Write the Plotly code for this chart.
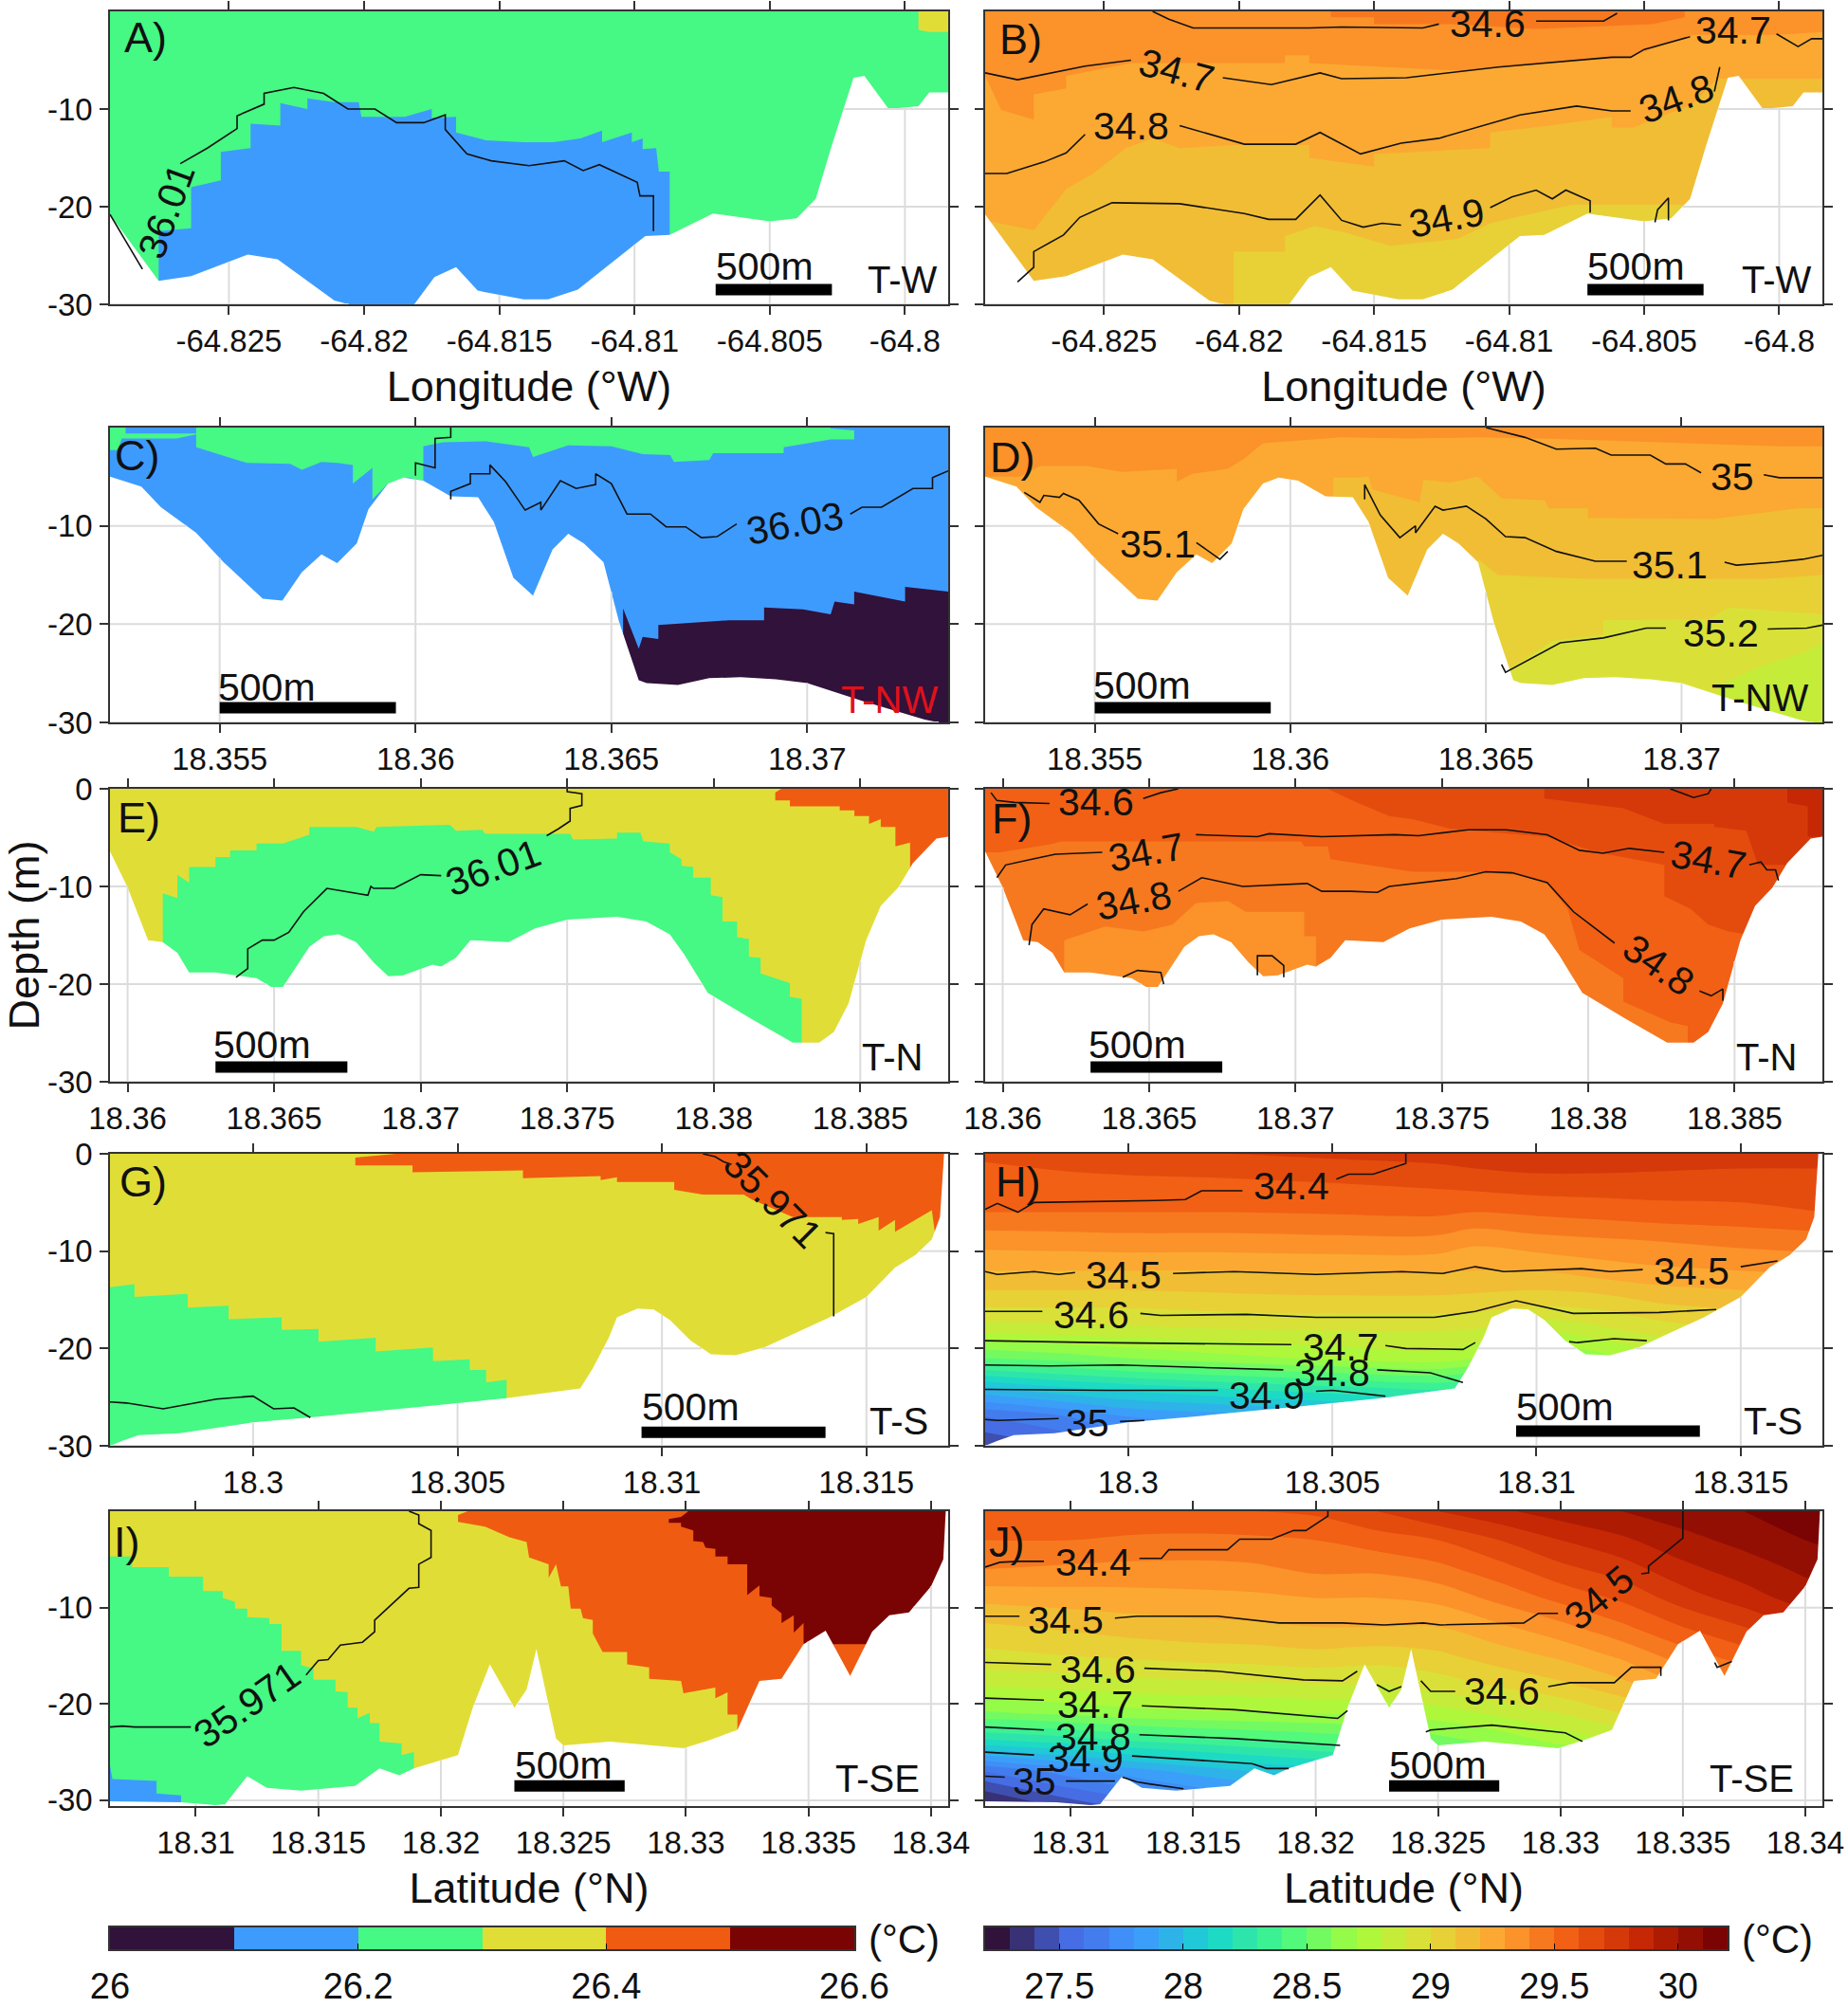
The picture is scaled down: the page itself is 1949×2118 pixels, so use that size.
import numpy as np
import plotly.graph_objects as go
from plotly.colors import sample_colorscale

W, H = 1949, 2118
FONT = "Liberation Sans"

# ------------------------------------------------------------------ colour scales
turbo_anchors = ["#30123b", "#466be3", "#3e9bfe", "#18d6cb", "#46f884", "#a4fc3c",
                 "#e1dd37", "#fea331", "#f05b12", "#c42503", "#7a0403"]
cb_left_edges = [26.0, 26.1, 26.2, 26.3, 26.4, 26.5, 26.6]
cb_left_ticks = [26, 26.2, 26.4, 26.6]
cb_left_text = ["26", "26.2", "26.4", "26.6"]
cb_right_start, cb_right_end, cb_right_step = 27.2, 30.2, 0.1
cb_right_ticks = [27.5, 28, 28.5, 29, 29.5, 30]
cb_right_text = ["27.5", "28", "28.5", "29", "29.5", "30"]

# ------------------------------------------------------------------ seabed profiles
bathy_lon = [-64.8294, -64.8276, -64.8264, -64.8243, -64.8232, -64.8211, -64.8203, -64.8182, -64.8174, -64.8166,
             -64.8158, -64.8141, -64.8132, -64.8121, -64.8096, -64.8087, -64.8071, -64.8050, -64.8040, -64.8033,
             -64.8027, -64.8019, -64.8015, -64.8006, -64.7995, -64.7991, -64.7984]
bathy_lon_z = [-20.8, -27.6, -27.1, -24.9, -25.4, -29.6, -30.2, -30.2, -27.2, -26.2, -28.6, -29.5, -29.5, -28.5, -23,
               -22.9, -20.7, -21.5, -21.2, -19.2, -13.7, -6.8, -6.6, -10, -9.7, -8.3, -8.3]
bathy_nw = [18.3522, 18.3530, 18.3535, 18.3544, 18.3551, 18.3561, 18.3566, 18.3571, 18.3576, 18.3580, 18.3585, 18.3588,
            18.3593, 18.3597, 18.3602, 18.3609, 18.3616, 18.3620, 18.3625, 18.3630, 18.3635, 18.3639, 18.3643, 18.3648,
            18.3652, 18.3657, 18.3659, 18.3667, 18.3675, 18.3683, 18.3692, 18.3700, 18.3714, 18.3730, 18.3736]
bathy_nw_z = [-5, -6, -8.1, -10.7, -13.7, -17.4, -17.6, -14.7, -12.9, -13.8, -11.8, -8.3, -5.7, -5.1, -5.4, -7, -7.1,
              -9.6, -15.3, -17.1, -12.4, -10.8, -11.8, -13.7, -19.8, -25.7, -26, -26.2, -25.5, -25.4, -25.6, -26,
              -27.8, -29.7, -30.2]
bathy_n = [18.3594, 18.3600, 18.3607, 18.3612, 18.3617, 18.3621, 18.3630, 18.3644, 18.3649, 18.3653, 18.3662, 18.3667,
           18.3672, 18.3678, 18.3684, 18.3689, 18.3694, 18.3704, 18.3707, 18.3712, 18.3717, 18.3730, 18.3739, 18.3750,
           18.3767, 18.3777, 18.3785, 18.3790, 18.3798, 18.3813, 18.3827, 18.3836, 18.3841, 18.3846, 18.3852, 18.3857,
           18.3863, 18.3868, 18.3876, 18.3880]
bathy_n_z = [-6.4, -10.1, -15.5, -15.7, -16.8, -18.8, -18.8, -19.4, -20.3, -20.3, -16.2, -15.1, -14.9, -15.7, -17.8,
             -19.2, -19.1, -18, -18.2, -17.3, -15.5, -15.7, -14.3, -13.4, -13.1, -13.6, -14.9, -17, -20.9, -23.6, -26,
             -26, -24.9, -22, -15.5, -12, -10.1, -7.6, -5.1, -4.9]
bathy_s = [18.2965, 18.2968, 18.2972, 18.2982, 18.3, 18.3016, 18.3043, 18.3062, 18.308, 18.3083, 18.3087, 18.3089,
           18.3094, 18.3098, 18.3102, 18.3107, 18.3112, 18.3118, 18.3125, 18.3141, 18.315, 18.3157, 18.3162, 18.3166,
           18.3168, 18.3169, 18.317]
bathy_s_z = [-30, -29.5, -28.9, -28.7, -27.6, -27, -25.9, -25.1, -24.1, -22.1, -18.9, -16.8, -15.9, -16, -17.1, -19.2,
             -20.6, -20.7, -19.9, -16.8, -14.7, -11.7, -10.4, -8.8, -6.5, 0, 0]
bathy_se = [18.3065, 18.3094, 18.3108, 18.3112, 18.3121, 18.3129, 18.3143, 18.3165, 18.3175, 18.3183, 18.3189, 18.3207,
            18.3213, 18.322, 18.323, 18.3235, 18.3239, 18.3247, 18.325, 18.3269, 18.3299, 18.3309, 18.3321, 18.333,
            18.3339, 18.3348, 18.3357, 18.3367, 18.3376, 18.3383, 18.3391, 18.34, 18.3405, 18.3406, 18.3407]
bathy_se_z = [-30.1, -30.2, -30.5, -30.4, -27.5, -28.7, -29, -28.5, -26.7, -27.4, -26.7, -25.3, -20.4, -15.9, -20.4,
              -18.5, -14.3, -23.6, -24.3, -23.9, -24.6, -23.8, -22.7, -17.6, -17.4, -13.8, -12.4, -17.1, -12.5, -10.8,
              -10.5, -7.8, -5, 0, 0]

# ------------------------------------------------------------------ panel A
A_blue_x = [-64.8276, -64.8264, -64.8264, -64.8253, -64.8253, -64.8242, -64.8242, -64.8231, -64.8231, -64.8221, -64.8221,
            -64.8211, -64.8202, -64.8201, -64.8185, -64.8175, -64.8175, -64.8166, -64.8166, -64.8155, -64.8141, -64.8130,
            -64.8120, -64.8112, -64.8112, -64.8101, -64.8101, -64.8097, -64.8097, -64.8092, -64.8091, -64.8087]
A_blue_z = [-22.5, -22.2, -18, -17.3, -14.4, -14, -11.5, -11.7, -9.4, -10, -8.9, -9.3, -9.3, -10.8, -10.8, -10, -10.9,
            -10.8, -12.4, -13.2, -13.4, -13.4, -13, -12.2, -13.4, -12.4, -13.4, -13, -14.1, -14, -16.4, -16.4]
A_yellow_x = [-64.7995, -64.7991, -64.7984]
A_yellow_z = [-1.9, -2.1, -2.1]
A_s3601_x = [-64.8268, -64.8258, -64.8247, -64.8247, -64.8237, -64.8237, -64.8226, -64.8215, -64.8206, -64.8196, -64.8188,
             -64.8178, -64.8170, -64.8170, -64.8162, -64.8153, -64.8139, -64.8126, -64.8119, -64.8113, -64.8099, -64.8098,
             -64.8093, -64.8093, None, -64.8294, -64.8282]
A_s3601_z = [-15.6, -14, -12, -10.7, -9.5, -8.4, -7.8, -8.4, -10, -10, -11.4, -11.4, -10.6, -12.1, -14.6, -15.3, -15.8,
             -15.3, -16.3, -15.7, -17.5, -18.9, -18.9, -22.5, None, -20.8, -26.4]

# ------------------------------------------------------------------ panel B
B_t2915_x = [-64.8294, -64.8202, -64.8202, -64.8183, -64.8183, -64.8172, -64.8160, -64.8144, -64.8119, -64.8107, -64.8096,
             -64.8077, -64.8064, -64.7984]
B_t2915_z = [-40, -40, -24.6, -24.6, -23, -22, -22.7, -24, -23.3, -21.7, -21, -19.8, -19.8, -19.8]
B_t2925_x = [-64.8294, -64.8276, -64.8264, -64.8254, -64.8242, -64.8232, -64.8222, -64.8202, -64.8174, -64.8174, -64.8150,
             -64.8150, -64.8107, -64.8107, -64.8085, -64.8062, -64.8062, -64.8054, -64.8032, -64.8023, -64.7984]
B_t2925_z = [-21.4, -22.4, -18.2, -16.6, -14, -13, -14, -13.7, -13.7, -15, -15.9, -14.6, -14, -12.4, -11.7, -10.8, -11.9,
             -11.9, -9.5, -6.9, -6.9]
B_t2935_x = [-64.8294, -64.8288, -64.8276, -64.8276, -64.8264, -64.8264, -64.824, -64.8183, -64.8183, -64.8174, -64.8174,
             -64.8117, -64.8096, -64.8056, -64.8032, -64.8001, -64.7984]
B_t2935_z = [-6.6, -10.1, -11.1, -8.5, -7.9, -6.6, -5.3, -5.3, -4.5, -4.5, -5.3, -6.1, -5.5, -4.7, -2.4, -2.4, -2.1]
B_t2945_x = [-64.8166, -64.8166, -64.8150, -64.8150, -64.8121, -64.8090, -64.8047, -64.8035, -64.8035]
B_t2945_z = [0, -0.6, -0.6, -1.3, -1.3, -1.8, -1.3, -0.6, 0]
B_s346_x = [-64.8232, -64.8226, -64.8217, -64.8174, -64.8162, -64.8132, -64.8126, None, -64.8090, -64.8065, -64.8060]
B_s346_z = [0, -0.8, -1.7, -1.7, -1.6, -1.7, -1.3, None, -1, -1, -0.2]
B_s347_x = [-64.8294, -64.8282, -64.8257, -64.8240, None, -64.8206, -64.8188, -64.817, -64.8162, -64.8138, -64.8104,
            -64.8062, -64.8055, -64.805, -64.8033, None, -64.8001, -64.7993, -64.7988, -64.7984]
B_s347_z = [-6.3, -7, -5.6, -5, None, -6.8, -7.5, -6.3, -6.9, -6.8, -5.7, -4.7, -4.7, -3.9, -2.6, None, -2.3, -3.6, -2.8, -2.8]
B_s348_x = [-64.8294, -64.8286, -64.8272, -64.8264, -64.8257, None, -64.8222, -64.8198, -64.8179, -64.817, -64.8155, -64.814,
            -64.8126, -64.8096, -64.8075, -64.8062, -64.8055, None, -64.8024, -64.8022]
B_s348_z = [-16.6, -16.6, -15.4, -14.5, -12.6, None, -11.7, -13.6, -13.6, -12.4, -14.6, -13.5, -13, -10.6, -9.7, -10.2,
            -10.2, None, -8.2, -5.7]
B_s349_x = [-64.8282, -64.8276, -64.8276, -64.8265, -64.8259, -64.8247, -64.8222, -64.8198, -64.8189, -64.8179, -64.817,
            -64.8162, -64.8154, -64.8147, -64.814, None, -64.8107, -64.8099, -64.809, -64.8084, -64.8079, -64.807, -64.807,
            None, -64.8046, -64.8045, -64.8041, -64.8041]
B_s349_z = [-27.7, -26.2, -24.6, -22.9, -21.1, -19.6, -19.7, -20.7, -21.3, -21.3, -18.8, -21.4, -22.1, -21.7, -21.9, None,
            -20.1, -19, -18.3, -19.2, -18.3, -19.4, -20.6, None, -21.6, -20.3, -19.1, -21.4]

# ------------------------------------------------------------------ panel C
C_dark_x = [18.3653, 18.3657, 18.3658, 18.3662, 18.3662, 18.3680, 18.3689, 18.3689, 18.3699, 18.3706, 18.3707, 18.3712,
            18.3712, 18.3725, 18.3725, 18.3736]
C_dark_z = [-18.4, -22.5, -21.3, -21.5, -20.1, -19.6, -19.6, -18.3, -18.5, -19, -17.7, -18, -16.7, -17.7, -16.2, -16.7]
C_green_x = [18.3544, 18.3544, 18.3557, 18.3568, 18.3571, 18.3576, 18.3580, 18.3584, 18.3584, 18.3589, 18.3589, 18.3593,
             18.3598, 18.3602, 18.3602, 18.3607, 18.3618, 18.3629, 18.3630, 18.3639, 18.3650, 18.3658, 18.3665, 18.3666,
             18.3675, 18.3676, 18.3694, 18.3694, 18.3706, 18.3712, 18.3712, 18.3706]
C_green_z = [0, -2, -3.6, -3.7, -4.3, -3.5, -3.6, -3.8, -5.7, -4.1, -7.3, -5.7, -5.1, -5.4, -1.9, -1.5, -1.4, -2, -3, -1.8,
             -1.9, -2.7, -2.8, -3.5, -3.3, -2.6, -2.6, -2, -1.2, -1.2, -0.3, -0.1]
C_green2_x = [18.3522, 18.3524, 18.3525, 18.3539, 18.3544]
C_green2_z = [-2.3, -2.3, -1.1, -1.1, -0.7]
C_blue2_x = [18.3526, 18.3544]
C_blue2_z = [-0.6, -0.6]
C_s3603_x = [18.3609, 18.3609, 18.3605, 18.3605, 18.3600, 18.3600, None, 18.3609, 18.3609, 18.3614, 18.3614, 18.3619, 18.3619,
             18.3623, 18.3628, 18.3632, 18.3632, 18.3637, 18.3641, 18.3646, 18.3646, 18.3650, 18.3654, 18.3660, 18.3664,
             18.3669, 18.3673, 18.3677, 18.3682, None, 18.3711, 18.3714, 18.3719, 18.3727, 18.3732, 18.3732, 18.3736]
C_s3603_z = [0, -1, -1.1, -4.1, -3.6, -4.9, None, -7.3, -6.5, -5.7, -4.7, -4.7, -3.8, -5.5, -8.4, -7.6, -8.4, -5.4, -6.2,
             -5.8, -4.7, -5.7, -8.8, -8.8, -10.1, -10.1, -11.2, -11.1, -9.8, None, -8.8, -8.1, -8.1, -6.2, -6.2, -5.1, -4.4]

# ------------------------------------------------------------------ panel D
D_t2895_x = [18.3522, 18.3700, 18.3710, 18.3720, 18.3731, 18.3736]
D_t2895_z = [-40, -40, -26.2, -24.3, -23, -21.9]
D_t2905_x = [18.3522, 18.3656, 18.3667, 18.3680, 18.3680, 18.3707, 18.3712, 18.3736]
D_t2905_z = [-40, -24.6, -21.7, -21.1, -19.6, -19.5, -18.3, -19]
D_t2915_x = [18.3522, 18.3648, 18.3648, 18.3653, 18.3676, 18.3721, 18.3736]
D_t2915_z = [-40, -40, -13.4, -15, -15.4, -15.4, -15]
D_t2925_x = [18.3522, 18.3611, 18.3611, 18.3617, 18.3620, 18.3621, 18.3633, 18.3634, 18.3641, 18.3648, 18.3654, 18.3665,
             18.3666, 18.3676, 18.3676, 18.3708, 18.3730, 18.3736]
D_t2925_z = [-40, -40, -5.1, -5.1, -5, -6.3, -7.6, -5.3, -5.6, -5, -7.2, -7.4, -8.2, -8.2, -9.2, -9.3, -8.2, -8.2]
D_t2935_x = [18.3522, 18.3531, 18.3536, 18.3548, 18.3557, 18.3571, 18.3571, 18.3575, 18.3584, 18.3588, 18.3593, 18.3613,
             18.3631, 18.3648, 18.3664, 18.3680, 18.3725, 18.3736]
D_t2935_z = [-5, -5, -3.9, -3.9, -4.5, -4.2, -5.5, -4.7, -4.2, -3.2, -1.6, -1, -1.1, -1, -1.1, -1.3, -1.9, -1.9]
D_s35_x = [18.3650, 18.3660, 18.3668, 18.3678, 18.3682, 18.3692, 18.3696, 18.3701, 18.3705, None, 18.3721, 18.3725, 18.3736]
D_s35_z = [0, -1, -2.2, -2.1, -2.8, -2.8, -3.7, -3.7, -4.6, None, -4.8, -5.1, -5.1]
D_s351_x = [18.3532, 18.3536, 18.3537, 18.3541, 18.3542, 18.3546, 18.3551, 18.3556, None, 18.3576, 18.3582, 18.3584, None,
            18.3619, 18.3619, 18.3623, 18.3628, 18.3632, 18.3632, 18.3637, 18.3639, 18.3645, 18.3650, 18.3655, 18.3660,
            18.3668, 18.3678, 18.3686, None, 18.3711, 18.3714, 18.3724, 18.3731, 18.3736]
D_s351_z = [-6.6, -7.6, -6.9, -7.1, -6.7, -7.4, -9.8, -10.8, None, -11.7, -13.4, -12.6, None, -7.3, -5.8, -8.9, -11.2, -10,
            -10.7, -8, -8.4, -8, -9.3, -11.1, -11.2, -12.6, -13.6, -13.6, None, -13.7, -14, -13.7, -13.4, -13]
D_s352_x = [18.3654, 18.3655, 18.3669, 18.368, 18.3691, 18.3696, None, 18.3722, 18.3732, 18.3736]
D_s352_z = [-24.1, -24.9, -21.9, -21.4, -20.4, -20.4, None, -20.5, -20.4, -20.1]

# ------------------------------------------------------------------ panel E
E_green_x = [18.3612, 18.3612, 18.3617, 18.3617, 18.3621, 18.3621, 18.3630, 18.3630, 18.3635, 18.3635, 18.3644, 18.3644,
             18.3653, 18.3662, 18.3662, 18.3678, 18.3684, 18.3685, 18.3710, 18.3712, 18.3721, 18.3722, 18.3751, 18.3752,
             18.3767, 18.3767, 18.3775, 18.3776, 18.3785, 18.3785, 18.3789, 18.3789, 18.3793, 18.3793, 18.3799, 18.3799,
             18.3803, 18.3803, 18.3808, 18.3808, 18.3812, 18.3812, 18.3816, 18.3816, 18.3826, 18.3826, 18.3830, 18.3830]
E_green_z = [-15.7, -10.7, -11.2, -8.8, -9.6, -8, -8, -7, -7, -6.3, -6.3, -5.6, -5.6, -4.7, -3.9, -3.9, -4.4, -3.9, -3.7,
             -4.3, -4.2, -4.6, -4.6, -5.2, -5.1, -4.5, -4.5, -5.4, -5.6, -6.5, -7.2, -7.9, -8, -9.1, -9.1, -10.9, -11.1,
             -13.6, -13.6, -15.2, -15.4, -17.2, -17.3, -18.9, -19.9, -21.3, -21.5, -26.5]
E_orange_x = [18.3823, 18.3821, 18.3821, 18.3826, 18.3826, 18.3843, 18.3843, 18.3848, 18.3848, 18.3853, 18.3853, 18.3857,
              18.3857, 18.3862, 18.3862, 18.3867, 18.3867, 18.3863, 18.3880]
E_orange_z = [0, -0.4, -1.2, -1.2, -1.8, -1.8, -2.2, -2.2, -2.8, -2.8, -3.6, -3.1, -3.9, -3.9, -5.9, -5.5, -9.1, -10.2, -10.2]
E_s3601_x = [18.3637, 18.3641, 18.3641, 18.3646, 18.3650, 18.3655, 18.3660, 18.3668, 18.3682, 18.3683, 18.3684, 18.3691,
             18.3700, 18.3707, None, 18.3743, 18.3747, 18.3751, 18.3751, 18.3755, 18.3755, 18.3750, 18.3750]
E_s3601_z = [-19.3, -18.4, -16.4, -15.5, -15.5, -14.7, -12.6, -10.2, -10.9, -10, -10.2, -10.2, -8.8, -8.9, None, -4.8,
             -4.1, -3.3, -2, -1.7, -0.5, -0.3, 0]

# ------------------------------------------------------------------ panel F
F_t2945_x = [18.3594, 18.3621, 18.3621, 18.3635, 18.3648, 18.3658, 18.3666, 18.3677, 18.3683, 18.3703, 18.3703, 18.3707,
             18.3707, 18.3709, 18.3880]
F_t2945_z = [-40, -40, -15.5, -14.1, -14.6, -13.9, -11.7, -11.5, -12.6, -12.6, -15.1, -15.1, -18.5, -40, -40]
F_t2955_x = [18.3594, 18.3599, 18.3616, 18.3620, 18.3702, 18.3703, 18.3711, 18.3712, 18.3740, 18.3759, 18.3776, 18.3786,
             18.3793, 18.3797, 18.3812, 18.3812, 18.3828, 18.3834, 18.3834, 18.3837, 18.3880]
F_t2955_z = [-6.5, -6.5, -5.7, -5.4, -5.4, -5.9, -5.9, -7.2, -8.5, -8.5, -8.8, -9.7, -12.3, -16.5, -19.4, -21.8, -23.9,
             -24.3, -26.2, -26.2, -26.2]
F_t2965_x = [18.3711, 18.3721, 18.3732, 18.3740, 18.3753, 18.3786, 18.3803, 18.3826, 18.3826, 18.3835, 18.3841, 18.3848,
             18.3854, 18.3880]
F_t2965_z = [0, -1.4, -2.8, -3.1, -4.1, -4.9, -6.5, -7.8, -11, -12.3, -13.9, -14.6, -14.9, -14.9]
F_t2975_x = [18.3785, 18.3785, 18.3812, 18.3826, 18.3843, 18.3843, 18.3854, 18.3858, 18.3880]
F_t2975_z = [0, -1, -2, -3.6, -3.6, -3.9, -4.3, -7.8, -7.8]
F_t2985_x = [18.3868, 18.3868, 18.3875, 18.3875, 18.3880]
F_t2985_z = [0, -1.4, -1.8, -4.9, -4.9]
F_s346_x = [18.3596, 18.3598, 18.3604, 18.3616, None, 18.3648, 18.3654, 18.3660, None, 18.3828, 18.3836, 18.3841, 18.3842]
F_s346_z = [-0.4, -1.2, -1.4, -1.5, None, -1, -0.4, 0, None, 0, -0.9, -0.5, 0]
F_s347_x = [18.3598, 18.3601, 18.3610, 18.3618, 18.3634, None, 18.3666, 18.3687, 18.3691, 18.3709, 18.3734, 18.3742, 18.3759,
            18.3772, 18.3786, 18.3797, 18.3805, 18.3814, 18.3826, None, 18.3855, 18.3859, 18.3861, 18.3864, 18.3865]
F_s347_z = [-9.1, -7.8, -7.2, -6.7, -6.5, None, -4.7, -4.9, -4.6, -4.9, -4.7, -4.8, -4.2, -4.2, -4.7, -6.3, -6.6, -6.1,
            -6.5, None, -7.8, -7.5, -8.3, -8.3, -9.4]
F_s348_x = [18.3609, 18.361, 18.3614, 18.3623, 18.3629, None, 18.366, 18.3668, 18.3682, 18.3704, 18.3709, 18.3719, 18.3728,
            18.3732, 18.3755, 18.3765, 18.3774, 18.3786, 18.3795, 18.3809, None, 18.3838, 18.3842, 18.3846, 18.3846, None,
            18.3641, 18.3646, 18.3654, 18.3655, None, 18.3687, 18.3687, 18.3692, 18.3696, 18.3696]
F_s348_z = [-16, -13.9, -12.3, -12.9, -11.8, None, -10.5, -9.1, -10, -9.7, -10.5, -10.5, -10.6, -10, -9.2, -8.5, -8.6,
            -9.6, -12.6, -15.8, None, -20.7, -21.2, -20.5, -21.7, None, -19.3, -18.6, -18.8, -20, None, -19.1, -17.1,
            -17.1, -18.1, -19.3]

# ------------------------------------------------------------------ panel G
G_green_x = [18.2965, 18.2971, 18.2971, 18.2984, 18.2984, 18.2994, 18.2994, 18.3007, 18.3007, 18.3016, 18.3016, 18.303,
             18.303, 18.3044, 18.3044, 18.3053, 18.3053, 18.3057, 18.3057, 18.3062, 18.3062]
G_green_z = [-13.7, -13.4, -14.7, -14.4, -15.8, -15.6, -17, -16.8, -18.1, -18, -19.3, -18.9, -20.3, -19.9, -21.3, -21.1,
             -22.2, -22.2, -23.5, -23.2, -25.2]
G_orange_x = [18.3035, 18.3025, 18.3025, 18.3039, 18.3039, 18.3066, 18.3066, 18.3085, 18.3085, 18.3089, 18.3089, 18.3103,
              18.3103, 18.311, 18.312, 18.3122, 18.3132, 18.3144, 18.3144, 18.3148, 18.3148, 18.3153, 18.3153, 18.3157,
              18.3157, 18.3166, 18.3167, 18.3162, 18.317]
G_orange_z = [0, -0.4, -1.2, -1.2, -1.9, -1.7, -2.5, -2.3, -2.7, -2.4, -2.9, -2.9, -3.7, -4.2, -4.2, -4.7, -6.5, -6.5,
              -6.8, -6.7, -7.2, -6.5, -7.9, -6.8, -8, -5.8, -8.8, -10.5, -10.5]
G_s35971_x = [18.311, 18.3113, 18.3115, 18.3117, None, 18.314, 18.3142, 18.3142, None, 18.2965, 18.2969, 18.2978, 18.2991,
              18.3, 18.3005, 18.301, 18.3014]
G_s35971_z = [0, -0.3, -0.8, -1.1, None, -8.1, -8.2, -16.7, None, -25.5, -25.6, -26.2, -25.2, -24.9, -26.2, -26.1, -27.1]

# ------------------------------------------------------------------ panel H
H_lat = [18.2965, 18.2985, 18.30, 18.3025, 18.305, 18.3075, 18.3085, 18.31, 18.3115, 18.313, 18.315, 18.317]
H_depth = [0, -3, -6, -9, -12, -15, -18, -21, -24, -27, -31]
H_temp = [
    [29.62, 29.66, 29.68, 29.70, 29.72, 29.74, 29.76, 29.78, 29.78, 29.76, 29.74, 29.74],
    [29.55, 29.56, 29.57, 29.58, 29.60, 29.62, 29.64, 29.66, 29.66, 29.66, 29.66, 29.66],
    [29.50, 29.50, 29.50, 29.50, 29.51, 29.52, 29.50, 29.52, 29.54, 29.56, 29.57, 29.60],
    [29.34, 29.35, 29.36, 29.36, 29.37, 29.37, 29.32, 29.36, 29.38, 29.40, 29.43, 29.45],
    [29.20, 29.20, 29.20, 29.20, 29.21, 29.21, 29.20, 29.20, 29.25, 29.28, 29.30, 29.32],
    [29.05, 29.05, 29.05, 29.07, 29.08, 29.08, 29.07, 29.05, 29.06, 29.12, 29.15, 29.18],
    [28.85, 28.87, 28.88, 28.90, 28.91, 28.91, 28.90, 28.82, 28.88, 28.95, 29.00, 29.00],
    [28.50, 28.55, 28.60, 28.67, 28.72, 28.76, 28.70, 28.60, 28.65, 28.75, 28.80, 28.80],
    [28.00, 28.10, 28.15, 28.22, 28.28, 28.33, 28.30, 28.30, 28.30, 28.40, 28.40, 28.40],
    [27.60, 27.70, 27.80, 27.85, 27.90, 27.95, 28.00, 28.00, 28.00, 28.00, 28.00, 28.00],
    [27.35, 27.45, 27.55, 27.60, 27.70, 27.70, 27.80, 27.80, 27.80, 27.80, 27.80, 27.80],
]
H_s344_x = [18.2965, 18.2968, 18.2973, 18.2977, 18.3007, 18.3014, 18.3018, 18.3028, None, 18.3051, 18.3054, 18.306, 18.3066,
            18.3068, 18.3068]
H_s344_z = [-5.7, -5.1, -6, -5, -4.8, -4.7, -3.8, -3.8, None, -2.6, -2.1, -2.1, -1.3, -1, 0]
H_s345_x = [18.2965, 18.2968, 18.2977, 18.2983, 18.2987, None, 18.3011, 18.3026, 18.3046, 18.3067, 18.3077, 18.3085, 18.3092,
            18.3111, 18.3118, 18.3126, None, 18.315, 18.3159]
H_s345_z = [-12.1, -12.4, -12.1, -12.4, -12.2, None, -12.3, -12.1, -12.4, -12.1, -12.3, -11.6, -12.1, -11.8, -12.1, -11.9,
            None, -11.6, -11]
H_s346_x = [18.2965, 18.2979, None, 18.3003, 18.3008, 18.3029, 18.3046, 18.3075, 18.3085, 18.3095, 18.3109, 18.313, 18.3144]
H_s346_z = [-16.2, -16.2, None, -16.4, -16.6, -16.5, -16.8, -16.8, -16.2, -15.1, -16.4, -16.3, -16]
H_s347_x = [18.2965, 18.2992, 18.304, None, 18.3063, 18.3068, 18.3082, 18.3085, None, 18.3108, 18.311, 18.3119, 18.3127]
H_s347_z = [-19.2, -19.4, -19.6, None, -19.7, -20, -20.1, -19.4, None, -19.3, -19.4, -19, -19.2]
H_s348_x = [18.2965, 18.2981, 18.2998, 18.3038, None, 18.3061, 18.3074, 18.3082]
H_s348_z = [-21.7, -21.8, -21.7, -22.2, None, -22.2, -22.5, -23.5]
H_s349_x = [18.2965, 18.2995, 18.3022, None, 18.3046, 18.3050, 18.3063]
H_s349_z = [-24.2, -24.3, -24.3, None, -24.4, -24.3, -24.9]
H_s35_x = [18.2965, 18.2968, 18.2983, None, 18.2998, 18.3004]
H_s35_z = [-27.3, -27.4, -27.2, None, -27.5, -27.4]

# ------------------------------------------------------------------ panel I
I_green_x = [18.3065, 18.3074, 18.3074, 18.3089, 18.3089, 18.3103, 18.3103, 18.3111, 18.3111, 18.3116, 18.3116, 18.3121,
             18.3121, 18.313, 18.313, 18.3135, 18.3135, 18.3143, 18.3143, 18.3148, 18.3148, 18.3157, 18.3157, 18.3162,
             18.3162, 18.3166, 18.3166, 18.3171, 18.3171, 18.3175, 18.3175, 18.3184, 18.3184, 18.3189, 18.3189]
I_green_z = [-4.7, -4.7, -5.8, -5.8, -6.8, -6.8, -8.3, -8.3, -9, -9.4, -10.1, -10.1, -11, -11.1, -11.7, -11.7, -14.5, -14.5,
             -16, -16.3, -17.5, -17.5, -18.7, -18.8, -20.4, -20.4, -21.5, -20.9, -22, -22, -23.9, -24.1, -25.3, -25, -26.7]
I_blue_x = [18.3065, 18.3066, 18.3084, 18.3084, 18.3094, 18.3094]
I_blue_z = [-26.4, -27.8, -28, -29.3, -29.5, -30.2]
I_orange_x = [18.3211, 18.3207, 18.3207, 18.3218, 18.3228, 18.3235, 18.3236, 18.3244, 18.3244, 18.3247, 18.3249, 18.3252,
              18.3253, 18.3257, 18.3258, 18.3262, 18.3262, 18.3266, 18.3276, 18.3276, 18.3285, 18.3285, 18.3298, 18.3299,
              18.3312, 18.3312, 18.3317, 18.3317, 18.3321, 18.3321, 18.3407]
I_orange_z = [0, -0.4, -1.1, -1.6, -2.7, -3.2, -4.8, -5.5, -6.9, -5.5, -7.8, -7.8, -10.1, -10.1, -11.1, -11.3, -12.7, -14.6,
              -14.6, -15.9, -16.2, -17.4, -17.6, -18.9, -18.3, -19.4, -18.8, -21.1, -21.1, -22.7, -22.7]
I_darkred_x = [18.3301, 18.3298, 18.3293, 18.3293, 18.3298, 18.3298, 18.3303, 18.3303, 18.3307, 18.3308, 18.3312, 18.3312,
               18.3317, 18.3317, 18.3325, 18.3325, 18.333, 18.333, 18.3335, 18.3335, 18.3339, 18.3339, 18.3344, 18.3344,
               18.3348, 18.3348, 18.3407]
I_darkred_z = [0, -0.6, -0.8, -1.2, -1.2, -1.6, -2, -3.1, -3.2, -3.8, -3.9, -4.7, -4.7, -5.5, -5.5, -8.7, -7.7, -8.8, -9,
               -9.8, -10.6, -11.6, -10.8, -12.6, -11.6, -13.8, -13.8]
I_s35971_x = [18.3065, 18.307, 18.3075, 18.3098, None, 18.3145, 18.315, 18.3154, 18.3159, 18.3168, 18.3173, 18.3173, 18.3187,
              18.3191, 18.3191, 18.3196, 18.3196, 18.3191, 18.3191, 18.3187]
I_s35971_z = [-22.4, -22.3, -22.4, -22.4, None, -17, -15.5, -15.4, -13.9, -13.6, -12.5, -11.3, -8, -7.9, -5.5, -4.8, -2,
              -1.3, -0.4, 0]

# ------------------------------------------------------------------ panel J
J_lat = [18.3065, 18.31, 18.3125, 18.315, 18.3175, 18.32, 18.3225, 18.325, 18.3275, 18.33, 18.3325, 18.335, 18.3375, 18.34, 18.341]
J_depth = [0, -3, -6, -9, -12, -15, -18, -21, -24, -27, -31]
J_temp = [
    [29.56, 29.58, 29.59, 29.60, 29.60, 29.62, 29.70, 29.80, 29.88, 29.95, 30.00, 30.05, 30.10, 30.18, 30.20],
    [29.50, 29.50, 29.48, 29.47, 29.48, 29.50, 29.55, 29.60, 29.70, 29.80, 29.88, 29.97, 30.03, 30.10, 30.12],
    [29.40, 29.38, 29.37, 29.37, 29.38, 29.42, 29.42, 29.47, 29.56, 29.67, 29.75, 29.87, 29.95, 30.02, 30.05],
    [29.23, 29.25, 29.26, 29.27, 29.28, 29.30, 29.30, 29.33, 29.43, 29.53, 29.62, 29.75, 29.85, 29.95, 29.95],
    [29.08, 29.12, 29.15, 29.17, 29.18, 29.20, 29.20, 29.20, 29.28, 29.37, 29.48, 29.60, 29.70, 29.80, 29.80],
    [28.97, 29.00, 29.02, 29.04, 29.05, 29.07, 29.05, 29.08, 29.15, 29.22, 29.32, 29.45, 29.55, 29.65, 29.65],
    [28.82, 28.84, 28.86, 28.87, 28.88, 28.90, 28.90, 28.95, 29.02, 29.08, 29.17, 29.30, 29.40, 29.50, 29.50],
    [28.58, 28.62, 28.66, 28.68, 28.69, 28.70, 28.72, 28.75, 28.82, 28.90, 29.00, 29.10, 29.20, 29.30, 29.30],
    [28.15, 28.22, 28.28, 28.32, 28.36, 28.40, 28.45, 28.55, 28.62, 28.72, 28.80, 28.90, 29.00, 29.10, 29.10],
    [27.60, 27.75, 27.85, 27.93, 28.00, 28.05, 28.10, 28.20, 28.30, 28.40, 28.50, 28.60, 28.70, 28.80, 28.80],
    [27.21, 27.40, 27.50, 27.60, 27.65, 27.70, 27.80, 27.90, 28.00, 28.10, 28.20, 28.30, 28.40, 28.50, 28.50],
]
J_s344_x = [18.3065, 18.3071, 18.3079, 18.3089, None, 18.3128, 18.3137, 18.314, 18.3164, 18.3169, 18.3182, 18.3191, 18.3196,
            18.3205, 18.3205]
J_s344_z = [-5.8, -5.3, -5.2, -5.2, None, -4.9, -4.9, -4, -4, -2.9, -2.9, -2, -2, -0.5, 0]
J_s345_x = [18.3065, 18.3079, None, 18.3118, 18.3127, 18.316, 18.3185, 18.3211, 18.3228, 18.3244, 18.3251, 18.3285, 18.3291,
            18.3299, None, 18.3333, 18.3336, 18.3336, 18.335, 18.335]
J_s345_z = [-10.9, -10.9, None, -11.1, -10.9, -10.9, -11.6, -11.6, -11.8, -11.6, -11.8, -11.6, -10.6, -10.6, None, -6.5,
            -6.4, -5.7, -2.8, 0]
J_s346_x = [18.3065, 18.3092, None, 18.313, 18.316, 18.3195, 18.3211, 18.3217, None, 18.3225, 18.323, 18.3235, None, 18.3243,
            18.3247, 18.3257, None, 18.3295, 18.3304, 18.3322, 18.3329, 18.3341, 18.3341, None, 18.3363, 18.3364, 18.337]
J_s346_z = [-15.7, -15.9, None, -16.3, -16.6, -17.5, -17.6, -16.6, None, -18, -18.7, -18.2, None, -17.6, -18.7, -18.7, None,
            -18.2, -17.8, -17.8, -16.2, -16.2, -17.1, None, -15.7, -16.2, -15.6]
J_s347_x = [18.3065, 18.3089, None, 18.3129, 18.3167, 18.3209, 18.3213, None, 18.3245, 18.3247, 18.3272, 18.3302, 18.3309]
J_s347_z = [-19.4, -19.6, None, -20.2, -20.6, -21.5, -20.7, None, -22.9, -22.7, -22.2, -23, -23.9]
J_s348_x = [18.3065, 18.3089, None, 18.3128, 18.3167, 18.321]
J_s348_z = [-22.4, -22.7, None, -23.2, -23.6, -24.3]
J_s349_x = [18.3065, 18.3085, None, 18.3125, 18.315, 18.3174, 18.318, 18.3189]
J_s349_z = [-25, -25.3, None, -25.4, -25.8, -26.2, -26.7, -26.7]
J_s35_x = [18.3065, 18.3073, None, 18.3098, 18.3118, None, 18.3121, 18.3127, 18.3132, 18.3146]
J_s35_z = [-27.5, -27.6, None, -28, -28, None, -27.6, -28.1, -28.3, -28.8]

# ------------------------------------------------------------------ axes
lon_ticks = [-64.825, -64.82, -64.815, -64.81, -64.805, -64.8]
lon_text = ["-64.825", "-64.82", "-64.815", "-64.81", "-64.805", "-64.8"]
nw_ticks = [18.355, 18.36, 18.365, 18.37]
nw_text = ["18.355", "18.36", "18.365", "18.37"]
n_ticks = [18.36, 18.365, 18.37, 18.375, 18.38, 18.385]
n_text = ["18.36", "18.365", "18.37", "18.375", "18.38", "18.385"]
s_ticks = [18.3, 18.305, 18.31, 18.315]
s_text = ["18.3", "18.305", "18.31", "18.315"]
se_ticks = [18.31, 18.315, 18.32, 18.325, 18.33, 18.335, 18.34]
se_text = ["18.31", "18.315", "18.32", "18.325", "18.33", "18.335", "18.34"]
depth_ticks = [-10, -20, -30]
depth_ticks0 = [0, -10, -20, -30]

LEFT, RIGHT = (116, 1000), (1039, 1922)
ROWS = [(12, 321), (451, 762), (832, 1141), (1217, 1525), (1594, 1905)]


def right_color(T):
    i = int(np.floor((T - cb_right_start) / cb_right_step + 1e-6))
    return sample_colorscale(turbo_anchors, [i / 29])[0]


def left_color(T):
    i = int(np.floor((T - 26.0) / 0.1 + 1e-6))
    return sample_colorscale(turbo_anchors, [i / 5])[0]


panels = [
    dict(tag="A)", col=0, row=0, xr=(-64.8294, -64.7984), yr=(-30, 0), tv=lon_ticks, tt=lon_text, yt=depth_ticks,
         bx=bathy_lon, bz=bathy_lon_z, base=26.25, color=left_color,
         layers=[(26.15, A_blue_x, A_blue_z, "below"), (26.35, A_yellow_x, A_yellow_z, "above")],
         iso=[(A_s3601_x, A_s3601_z)], title="Longitude (°W)",
         labels=[("36.01", -64.8273, -20.4, -70)], tagxy=(-64.8281, -2.7),
         bar=(-64.8070, -64.8027, -28.5), bartxt=(-64.8052, -26.1), site=("T-W", -64.8001, -27.5, "#111")),
    dict(tag="B)", col=1, row=0, xr=(-64.8294, -64.7984), yr=(-30, 0), tv=lon_ticks, tt=lon_text, yt=depth_ticks,
         bx=bathy_lon, bz=bathy_lon_z, base=29.05, color=right_color,
         layers=[(29.15, B_t2915_x, B_t2915_z, "above"), (29.25, B_t2925_x, B_t2925_z, "above"),
                 (29.35, B_t2935_x, B_t2935_z, "above"), (29.45, B_t2945_x, B_t2945_z, "above")],
         iso=[(B_s346_x, B_s346_z), (B_s347_x, B_s347_z), (B_s348_x, B_s348_z), (B_s349_x, B_s349_z)],
         title="Longitude (°W)",
         labels=[("34.6", -64.8108, -1.3, 0), ("34.7", -64.8223, -6.1, 15), ("34.7", -64.8017, -1.9, 0),
                 ("34.8", -64.8240, -11.7, 0), ("34.8", -64.8038, -8.9, -20), ("34.9", -64.8123, -21.2, -10)],
         tagxy=(-64.8281, -2.9), bar=(-64.8071, -64.8028, -28.5), bartxt=(-64.8053, -26.1),
         site=("T-W", -64.8001, -27.5, "#111")),
    dict(tag="C)", col=0, row=1, xr=(18.3522, 18.3736), yr=(-30, 0), tv=nw_ticks, tt=nw_text, yt=depth_ticks,
         bx=bathy_nw, bz=bathy_nw_z, base=26.15, color=left_color,
         layers=[(26.05, C_dark_x, C_dark_z, "below"), (26.25, C_green_x, C_green_z, "above"),
                 (26.25, C_green2_x, C_green2_z, "above"), (26.15, C_blue2_x, C_blue2_z, "above")],
         iso=[(C_s3603_x, C_s3603_z)], title=None,
         labels=[("36.03", 18.3697, -9.7, -10)], tagxy=(18.3529, -2.8),
         bar=(18.355, 18.3595, -28.5), bartxt=(18.3562, -26.4), site=("T-NW", 18.3721, -27.7, "#e0111a")),
    dict(tag="D)", col=1, row=1, xr=(18.3522, 18.3736), yr=(-30, 0), tv=nw_ticks, tt=nw_text, yt=depth_ticks,
         bx=bathy_nw, bz=bathy_nw_z, base=28.85, color=right_color,
         layers=[(28.95, D_t2895_x, D_t2895_z, "above"), (29.05, D_t2905_x, D_t2905_z, "above"),
                 (29.15, D_t2915_x, D_t2915_z, "above"), (29.25, D_t2925_x, D_t2925_z, "above"),
                 (29.35, D_t2935_x, D_t2935_z, "above")],
         iso=[(D_s35_x, D_s35_z), (D_s351_x, D_s351_z), (D_s352_x, D_s352_z)], title=None,
         labels=[("35", 18.3713, -5, 0), ("35.1", 18.3566, -11.9, 0), ("35.1", 18.3697, -14, 0), ("35.2", 18.3710, -20.9, 0)],
         tagxy=(18.3529, -3), bar=(18.355, 18.3595, -28.5), bartxt=(18.3562, -26.2),
         site=("T-NW", 18.3720, -27.5, "#111")),
    dict(tag="E)", col=0, row=2, xr=(18.3594, 18.3880), yr=(-30, 0), tv=n_ticks, tt=n_text, yt=depth_ticks0,
         bx=bathy_n, bz=bathy_n_z, base=26.35, color=left_color,
         layers=[(26.25, E_green_x, E_green_z, "below"), (26.45, E_orange_x, E_orange_z, "above")],
         iso=[(E_s3601_x, E_s3601_z)], title=None, ytitle="Depth (m)",
         labels=[("36.01", 18.3725, -8.1, -20)], tagxy=(18.3604, -3),
         bar=(18.3630, 18.3675, -28.5), bartxt=(18.3646, -26.2), site=("T-N", 18.3861, -27.5, "#111")),
    dict(tag="F)", col=1, row=2, xr=(18.3594, 18.3880), yr=(-30, 0), tv=n_ticks, tt=n_text, yt=depth_ticks0,
         bx=bathy_n, bz=bathy_n_z, base=29.35, color=right_color,
         layers=[(29.45, F_t2945_x, F_t2945_z, "above"), (29.55, F_t2955_x, F_t2955_z, "above"),
                 (29.65, F_t2965_x, F_t2965_z, "above"), (29.75, F_t2975_x, F_t2975_z, "above"),
                 (29.85, F_t2985_x, F_t2985_z, "above")],
         iso=[(F_s346_x, F_s346_z), (F_s347_x, F_s347_z), (F_s348_x, F_s348_z)], title=None,
         labels=[("34.6", 18.3632, -1.4, 0), ("34.7", 18.3649, -6.5, -10), ("34.7", 18.3841, -7.3, 10),
                 ("34.8", 18.3645, -11.5, -10), ("34.8", 18.3824, -18.1, 35)],
         tagxy=(18.3603, -3.1), bar=(18.3630, 18.3675, -28.5), bartxt=(18.3646, -26.2),
         site=("T-N", 18.3861, -27.5, "#111")),
    dict(tag="G)", col=0, row=3, xr=(18.2965, 18.317), yr=(-30, 0), tv=s_ticks, tt=s_text, yt=depth_ticks0,
         bx=bathy_s, bz=bathy_s_z, base=26.35, color=left_color,
         layers=[(26.25, G_green_x, G_green_z, "below"), (26.45, G_orange_x, G_orange_z, "above")],
         iso=[(G_s35971_x, G_s35971_z)], title=None,
         labels=[("35.971", 18.3127, -4.7, 45)], tagxy=(18.2973, -2.9),
         bar=(18.3095, 18.3140, -28.6), bartxt=(18.3107, -26), site=("T-S", 18.3158, -27.5, "#111")),
    dict(tag="H)", col=1, row=3, xr=(18.2965, 18.317), yr=(-30, 0), tv=s_ticks, tt=s_text, yt=depth_ticks0,
         bx=bathy_s, bz=bathy_s_z, field=(H_lat, H_depth, H_temp), color=right_color, layers=[],
         iso=[(H_s344_x, H_s344_z), (H_s345_x, H_s345_z), (H_s346_x, H_s346_z), (H_s347_x, H_s347_z),
              (H_s348_x, H_s348_z), (H_s349_x, H_s349_z), (H_s35_x, H_s35_z)], title=None,
         labels=[("34.4", 18.304, -3.3, 0), ("34.5", 18.2999, -12.5, 0), ("34.5", 18.3138, -12.1, 0),
                 ("34.6", 18.2991, -16.6, 0), ("34.7", 18.3052, -19.9, 0), ("34.8", 18.305, -22.5, 0),
                 ("34.9", 18.3034, -24.8, 0), ("35", 18.299, -27.7, 0)],
         tagxy=(18.2973, -2.9), bar=(18.3095, 18.3140, -28.5), bartxt=(18.3107, -26),
         site=("T-S", 18.3158, -27.5, "#111")),
    dict(tag="I)", col=0, row=4, xr=(18.3065, 18.3407), yr=(-30.6, 0), tv=se_ticks, tt=se_text, yt=depth_ticks,
         bx=bathy_se, bz=bathy_se_z, base=26.35, color=left_color,
         layers=[(26.25, I_green_x, I_green_z, "below"), (26.15, I_blue_x, I_blue_z, "below"),
                 (26.45, I_orange_x, I_orange_z, "above"), (26.55, I_darkred_x, I_darkred_z, "above")],
         iso=[(I_s35971_x, I_s35971_z)], title="Latitude (°N)",
         labels=[("35.971", 18.3121, -20.1, -35)], tagxy=(18.3072, -3.2),
         bar=(18.323, 18.3275, -28.5), bartxt=(18.325, -26.4), site=("T-SE", 18.3378, -27.7, "#111")),
    dict(tag="J)", col=1, row=4, xr=(18.3065, 18.3407), yr=(-30.6, 0), tv=se_ticks, tt=se_text, yt=depth_ticks,
         bx=bathy_se, bz=bathy_se_z, field=(J_lat, J_depth, J_temp), color=right_color, layers=[],
         iso=[(J_s344_x, J_s344_z), (J_s345_x, J_s345_z), (J_s346_x, J_s346_z), (J_s347_x, J_s347_z),
              (J_s348_x, J_s348_z), (J_s349_x, J_s349_z), (J_s35_x, J_s35_z)], title="Latitude (°N)",
         labels=[("34.4", 18.3109, -5.3, 0), ("34.5", 18.3098, -11.3, 0), ("34.5", 18.3316, -9, -40),
                 ("34.6", 18.3111, -16.4, 0), ("34.6", 18.3276, -18.7, 0), ("34.7", 18.311, -20.1, 0),
                 ("34.8", 18.3109, -23.4, 0), ("34.9", 18.3106, -25.7, 0), ("35", 18.3085, -28, 0)],
         tagxy=(18.3074, -3.2), bar=(18.323, 18.3275, -28.5), bartxt=(18.325, -26.4),
         site=("T-SE", 18.3378, -27.7, "#111")),
]

fig = go.Figure()
layout = {}
annotations = []
GRID = "#dcdcdc"
AXLINE = "#333333"


def txt(text, x, y, xref, yref, size=41, angle=0, color="#111111"):
    annotations.append(dict(text=text, x=x, y=y, xref=xref, yref=yref, showarrow=False, textangle=angle,
                            font=dict(family=FONT, size=size, color=color), xanchor="center", yanchor="middle"))


for n, p in enumerate(panels, start=1):
    xname = "x" if n == 1 else f"x{n}"
    yname = "y" if n == 1 else f"y{n}"
    l, r = (LEFT, RIGHT)[p["col"]]
    t, b = ROWS[p["row"]]
    xmin, xmax = p["xr"]
    ymin, ymax = p["yr"]
    show_left = p["col"] == 0
    xa = dict(domain=[l / W, r / W], range=[xmin, xmax], anchor=yname, tickvals=p["tv"], ticktext=p["tt"],
              showgrid=False, zeroline=False, ticks="outside", ticklen=9, tickwidth=1.5, tickcolor=AXLINE,
              showline=True, linecolor=AXLINE, linewidth=1.5, mirror="allticks", ticklabelstandoff=0,
              automargin=False, tickfont=dict(family=FONT, size=33, color="#111111"))
    ya = dict(domain=[1 - b / H, 1 - t / H], range=[ymin, ymax], anchor=xname, tickvals=p["yt"],
              ticktext=[str(v) for v in p["yt"]], showgrid=False, zeroline=False, ticks="outside", ticklen=9,
              tickwidth=1.5, tickcolor=AXLINE, showline=True, linecolor=AXLINE, linewidth=1.5, mirror="allticks",
              automargin=False, showticklabels=show_left, ticklabelstandoff=1,
              tickfont=dict(family=FONT, size=33, color="#111111"))
    if p.get("title"):
        xa["title"] = dict(text=p["title"], font=dict(family=FONT, size=45, color="#111111"), standoff=14)
    if p.get("ytitle"):
        ya["title"] = dict(text=p["ytitle"], font=dict(family=FONT, size=45, color="#111111"), standoff=14)
    layout["xaxis" if n == 1 else f"xaxis{n}"] = xa
    layout["yaxis" if n == 1 else f"yaxis{n}"] = ya
    common = dict(xaxis=xname, yaxis=yname, hoverinfo="skip", showlegend=False)

    if "field" in p:
        fx, fy, fz = p["field"]
        steps = []
        n_band = 30
        for i in range(n_band):
            c = sample_colorscale(turbo_anchors, [i / 29])[0]
            steps += [[i / n_band, c], [(i + 1) / n_band, c]]
        fig.add_trace(go.Contour(x=fx, y=fy, z=fz, zmin=cb_right_start, zmax=cb_right_end, colorscale=steps,
                                 autocontour=False, showscale=False, line=dict(width=0),
                                 contours=dict(start=cb_right_start, end=cb_right_end, size=cb_right_step,
                                               coloring="fill", showlines=False),
                                 xaxis=xname, yaxis=yname, hoverinfo="skip", showlegend=False))
    else:
        fig.add_trace(go.Scatter(x=[xmin, xmax, xmax, xmin], y=[-40, -40, 0, 0], mode="none", fill="toself",
                                 fillcolor=p["color"](p["base"]), **common))
    for T, lx, lz, side in p["layers"]:
        edge = 0 if side == "above" else -40
        fig.add_trace(go.Scatter(x=[lx[0]] + lx + [lx[-1]], y=[edge] + lz + [edge], mode="none", fill="toself",
                                 fillcolor=p["color"](T), **common))

    # seabed mask
    bx, bz = p["bx"], p["bz"]
    fig.add_trace(go.Scatter(x=[xmin] + bx + [xmax, xmax, xmin], y=[bz[0]] + bz + [bz[-1], -40, -40], mode="none",
                             fill="toself", fillcolor="#ffffff", **common))
    # grid lines remain visible only under the seabed
    gx, gy = [], []
    sx = np.linspace(xmin, xmax, 1600)
    sb = np.interp(sx, bx, bz)
    for v in p["tv"]:
        top = float(np.interp(v, bx, bz))
        if top > ymin:
            gx += [v, v, None]
            gy += [ymin, top, None]
    for v in p["yt"]:
        if v == 0:
            continue
        under = v < sb
        idx = np.flatnonzero(np.diff(np.concatenate([[0], under.astype(int), [0]])))
        for a, e in zip(idx[::2], idx[1::2]):
            gx += [float(sx[a]), float(sx[e - 1]), None]
            gy += [v, v, None]
    fig.add_trace(go.Scatter(x=gx, y=gy, mode="lines", line=dict(color=GRID, width=2), **common))

    for ix, iz in p["iso"]:
        fig.add_trace(go.Scatter(x=ix, y=iz, mode="lines", line=dict(color="#111111", width=1.6), **common))
    b0, b1, bb = p["bar"]
    fig.add_trace(go.Scatter(x=[b0, b1], y=[bb, bb], mode="lines", line=dict(color="#000000", width=12), **common))

    for text, x, y, a in p["labels"]:
        txt(text, x, y, xname, yname, angle=a)
    txt(p["tag"], p["tagxy"][0], p["tagxy"][1], xname, yname, size=45)
    txt("500m", p["bartxt"][0], p["bartxt"][1], xname, yname, size=41)
    s, sxx, syy, sc = p["site"]
    txt(s, sxx, syy, xname, yname, size=40, color=sc)

# ------------------------------------------------------------------ colour bars
cb_top, cb_bottom = 2033, 2056
left_centers = [(a + e) / 2 for a, e in zip(cb_left_edges[:-1], cb_left_edges[1:])]
right_edges = [round(cb_right_start + i * cb_right_step, 1) for i in range(31)]
right_centers = [(a + e) / 2 for a, e in zip(right_edges[:-1], right_edges[1:])]
for n, (cx, tv, tt, (l, r), cnt) in enumerate(
        [(left_centers, cb_left_ticks, cb_left_text, (116, 901), 6),
         (right_centers, cb_right_ticks, cb_right_text, (1039, 1822), 30)], start=11):
    steps = []
    for i in range(cnt):
        c = sample_colorscale(turbo_anchors, [i / (cnt - 1)])[0]
        steps += [[i / cnt, c], [(i + 1) / cnt, c]]
    lo = cx[0] - (cx[1] - cx[0]) / 2
    hi = cx[-1] + (cx[1] - cx[0]) / 2
    fig.add_trace(go.Heatmap(x=cx, y=[0], z=[cx], colorscale=steps, zmin=lo, zmax=hi, showscale=False,
                             xaxis=f"x{n}", yaxis=f"y{n}", hoverinfo="skip"))
    layout[f"xaxis{n}"] = dict(domain=[l / W, r / W], range=[lo, hi], anchor=f"y{n}", tickvals=tv, ticktext=tt,
                               ticks="inside", ticklen=6, tickcolor="#000000", showgrid=False, zeroline=False,
                               showline=True, linecolor=AXLINE, linewidth=1.5, mirror=True, ticklabelstandoff=5,
                               automargin=False, tickfont=dict(family=FONT, size=38, color="#111111"))
    layout[f"yaxis{n}"] = dict(domain=[1 - cb_bottom / H, 1 - cb_top / H], range=[-0.5, 0.5], anchor=f"x{n}",
                               showticklabels=False, ticks="", showgrid=False, zeroline=False, automargin=False,
                               showline=True, linecolor=AXLINE, linewidth=1.5, mirror=True)
    txt("(°C)", (r + 52) / W, 1 - 2045 / H, "paper", "paper", size=42)

fig.update_layout(width=W, height=H, margin=dict(l=0, r=0, t=0, b=0, autoexpand=False), paper_bgcolor="#ffffff",
                  plot_bgcolor="#ffffff", annotations=annotations, showlegend=False, **layout)
fig.write_html("out.html", post_script="document.body.style.margin='0';", config={"displayModeBar": False})
